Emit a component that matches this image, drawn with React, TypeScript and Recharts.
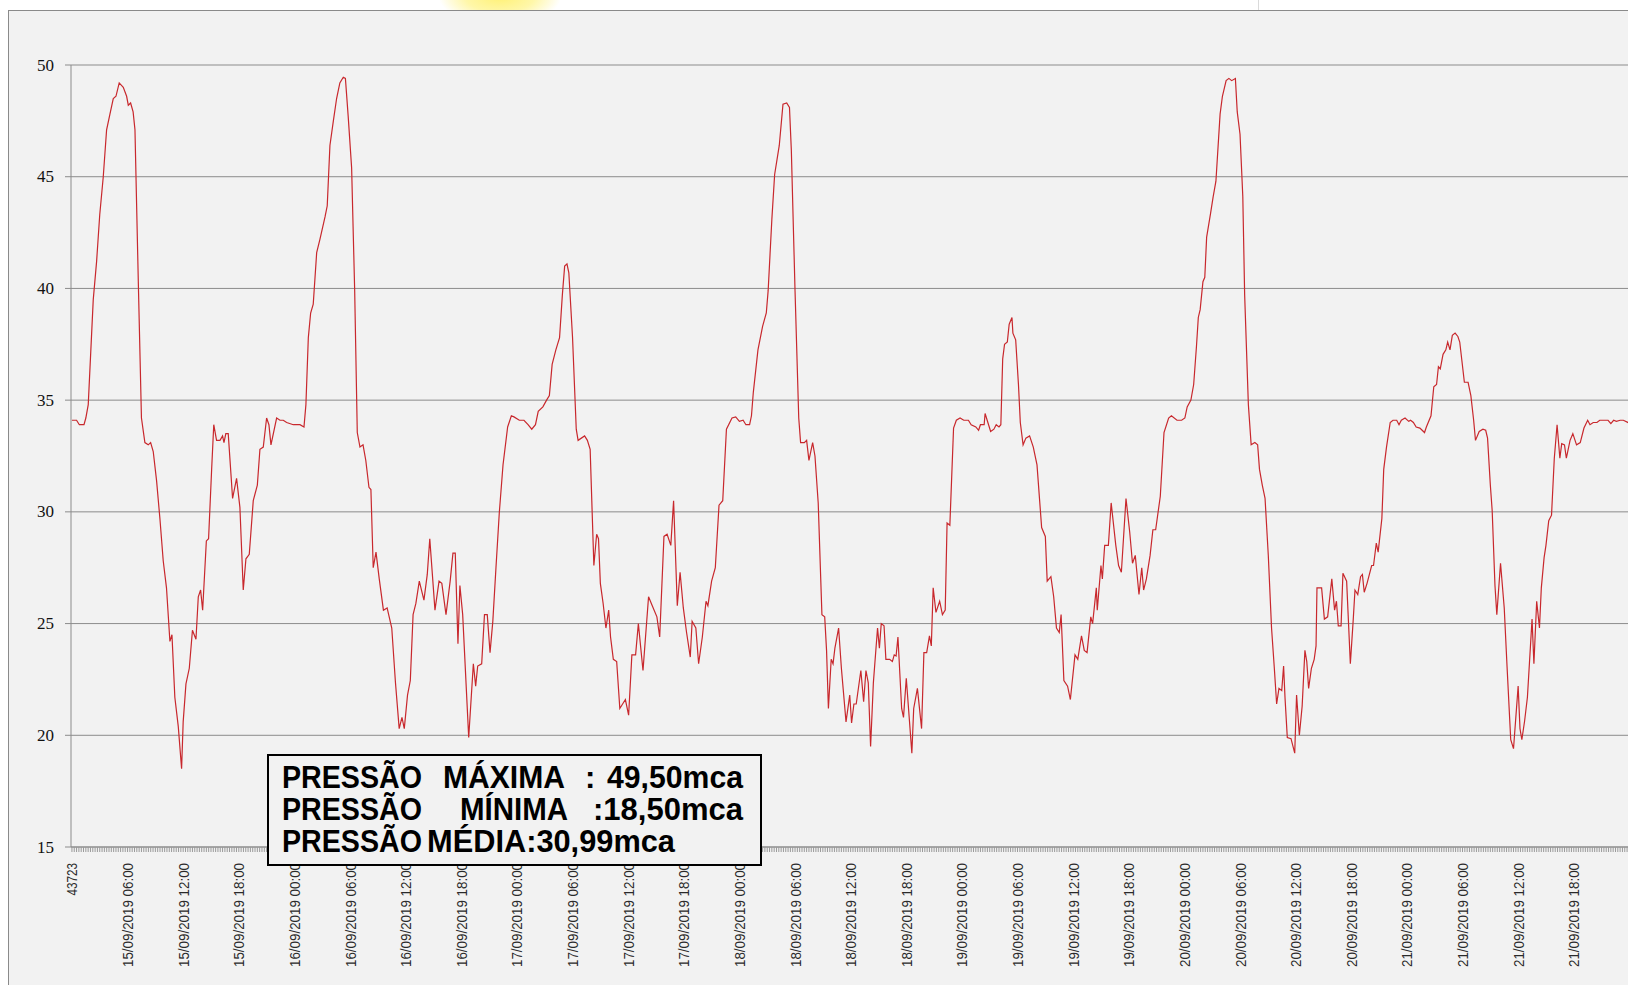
import { LineChart, Line, XAxis, YAxis, CartesianGrid } from 'recharts'

// pressure readings (mca) as [hours since 15/09/2019 00:00, pressure]
const sep15: [number, number][] = [
  [0, 34.1], [0.5, 34.1], [0.8, 33.9], [1.3, 33.9], [1.5, 34.2], [1.76, 34.8], [2.3, 39.5], [2.66, 41.2],
  [3.0, 43.3], [3.38, 45.0], [3.74, 47.1], [4.1, 47.8], [4.46, 48.5], [4.75, 48.6], [5.1, 49.2], [5.54, 49.0],
  [5.9, 48.6], [6.08, 48.2], [6.33, 48.3], [6.6, 47.9], [6.8, 47.1], [7.16, 40.3], [7.5, 34.2], [7.87, 33.1],
  [8.23, 33.0], [8.49, 33.1], [8.77, 32.7], [9.13, 31.4], [9.49, 29.7], [9.85, 27.8], [10.2, 26.6], [10.57, 24.2],
  [10.79, 24.5], [11.1, 21.7], [11.47, 20.4], [11.83, 18.5], [12.0, 20.6], [12.3, 22.3], [12.66, 23.0], [13.0, 24.7],
  [13.38, 24.3], [13.63, 26.2], [13.88, 26.5], [14.1, 25.6], [14.5, 28.7], [14.74, 28.8], [15.07, 31.9], [15.3, 33.9],
  [15.6, 33.2], [15.97, 33.2], [16.25, 33.4], [16.4, 33.1], [16.6, 33.5], [16.86, 33.5], [17.33, 30.6], [17.76, 31.5],
  [18.12, 30.2], [18.48, 26.5], [18.77, 27.9], [19.13, 28.1], [19.56, 30.5], [20.0, 31.2], [20.28, 32.8], [20.64, 32.9],
  [21.0, 34.2], [21.25, 33.9], [21.47, 33.0], [22.08, 34.2], [22.44, 34.1], [22.8, 34.1], [23.16, 34.0], [23.88, 33.9],
]

const sep16: [number, number][] = [
  [24.6, 33.9], [25.03, 33.8], [25.24, 34.8], [25.5, 37.8], [25.75, 38.9], [26.03, 39.3], [26.4, 41.6], [26.75, 42.2],
  [27.3, 43.2], [27.54, 43.7], [27.83, 46.4], [28.2, 47.5], [28.55, 48.5], [28.9, 49.2], [29.27, 49.45], [29.5, 49.4],
  [29.8, 47.7], [30.17, 45.4], [30.5, 39.9], [30.78, 33.55], [31.07, 32.9], [31.4, 33.0], [31.7, 32.3], [32.04, 31.1],
  [32.25, 31.0], [32.5, 27.5], [32.8, 28.2], [33.15, 27.0], [33.6, 25.6], [34.0, 25.7], [34.5, 24.8], [34.9, 22.35],
  [35.3, 20.3], [35.6, 20.8], [35.85, 20.3], [36.2, 21.8], [36.5, 22.45], [36.8, 25.4], [37.1, 25.9], [37.47, 26.9],
  [37.97, 26.05], [38.33, 27.2], [38.6, 28.8], [39.16, 25.6], [39.6, 26.9], [39.9, 26.8], [40.35, 25.4], [40.8, 26.9],
  [41.1, 28.15], [41.35, 28.15], [41.64, 24.1], [41.85, 26.7], [42.15, 25.4], [42.8, 19.9], [43.3, 23.2], [43.55, 22.2],
  [43.77, 23.1], [44.2, 23.2], [44.5, 25.4], [44.8, 25.4], [45.1, 23.7], [45.4, 25.1], [45.74, 27.5], [46.1, 29.96],
  [46.5, 32.1], [47.0, 33.8], [47.4, 34.3], [47.68, 34.25],
]

const sep17: [number, number][] = [
  [48.26, 34.1], [48.76, 34.1], [49.2, 33.9], [49.6, 33.7], [50.0, 33.9], [50.3, 34.5], [50.8, 34.7], [51.2, 35.0],
  [51.5, 35.2], [51.8, 36.6], [52.2, 37.25], [52.6, 37.8], [52.9, 39.7], [53.15, 41.0], [53.4, 41.1], [53.6, 40.7],
  [54.0, 37.8], [54.4, 33.7], [54.6, 33.2], [55.3, 33.4], [55.6, 33.2], [55.9, 32.8], [56.3, 27.6], [56.6, 29.0],
  [56.8, 28.8], [57.0, 26.8], [57.3, 25.9], [57.6, 24.8], [57.9, 25.6], [58.1, 24.4], [58.4, 23.4], [58.76, 23.3],
  [59.1, 21.2], [59.4, 21.4], [59.7, 21.6], [60.05, 20.9], [60.4, 23.6], [60.8, 23.6], [61.1, 25.0], [61.6, 22.9],
  [62.2, 26.2], [62.6, 25.8], [63.1, 25.3], [63.4, 24.4], [63.86, 28.9], [64.2, 29.0], [64.6, 28.5], [64.9, 30.5],
  [65.3, 25.8], [65.6, 27.3], [65.95, 25.7], [66.3, 24.6], [66.7, 23.5], [66.9, 25.1], [67.3, 24.8], [67.6, 23.2],
  [68.0, 24.4], [68.4, 26.0], [68.6, 25.8], [69.0, 26.9], [69.4, 27.5], [69.8, 30.3], [70.2, 30.5], [70.6, 33.7],
  [71.2, 34.2], [71.6, 34.25],
]

const sep18: [number, number][] = [
  [72.0, 34.05], [72.4, 34.1], [72.7, 33.9], [73.1, 33.9], [73.3, 34.3], [73.5, 35.35], [74.0, 37.25], [74.5, 38.3],
  [74.9, 38.9], [75.1, 39.9], [75.5, 43.1], [75.8, 45.1], [76.3, 46.4], [76.7, 48.25], [77.1, 48.3], [77.4, 48.1],
  [77.6, 46.2], [78.0, 39.9], [78.4, 34.2], [78.6, 33.1], [79.0, 33.1], [79.25, 33.2], [79.5, 32.3], [79.9, 33.1],
  [80.15, 32.5], [80.5, 30.4], [80.9, 25.4], [81.2, 25.3], [81.4, 23.8], [81.6, 21.2], [81.9, 23.4], [82.1, 23.2],
  [82.3, 23.9], [82.7, 24.8], [83.0, 23.0], [83.5, 20.6], [83.9, 21.8], [84.1, 20.55], [84.35, 21.4], [84.6, 21.4],
  [85.1, 22.9], [85.4, 21.5], [85.65, 22.9], [85.9, 22.35], [86.15, 19.5], [86.45, 22.35], [86.9, 24.8], [87.1, 23.9],
  [87.3, 25.0], [87.6, 24.9], [87.8, 23.4], [88.2, 23.4], [88.5, 23.3], [88.7, 23.6], [88.9, 23.55], [89.1, 24.4],
  [89.5, 21.2], [89.7, 20.8], [90.0, 22.55], [90.6, 19.2], [90.8, 21.2], [91.2, 22.1], [91.65, 20.3], [91.9, 23.7],
  [92.2, 23.7], [92.5, 24.45], [92.7, 24.0], [92.9, 26.6], [93.2, 25.5], [93.6, 26.0], [93.9, 25.4], [94.2, 25.6],
  [94.4, 29.5], [94.7, 29.4], [95.1, 33.75], [95.4, 34.1], [95.8, 34.2],
]

const sep19: [number, number][] = [
  [96.2, 34.1], [96.7, 34.1], [97.0, 33.9], [97.5, 33.8], [97.8, 33.65], [98.0, 33.9], [98.4, 33.9], [98.5, 34.4],
  [98.8, 34.0], [99.1, 33.6], [99.45, 33.7], [99.7, 33.9], [100.0, 33.8], [100.2, 33.9], [100.4, 36.85], [100.6, 37.5],
  [100.9, 37.6], [101.1, 38.4], [101.4, 38.7], [101.5, 38.0], [101.8, 37.7], [102.1, 35.7], [102.3, 34.0], [102.6, 33.0],
  [102.9, 33.3], [103.3, 33.4], [103.7, 32.9], [104.1, 32.1], [104.6, 29.3], [105.0, 28.9], [105.2, 26.9], [105.6, 27.1],
  [105.9, 26.2], [106.2, 24.8], [106.5, 24.6], [106.7, 25.4], [107.0, 22.45], [107.4, 22.2], [107.7, 21.6], [108.2, 23.6],
  [108.5, 23.4], [108.9, 24.45], [109.2, 23.8], [109.5, 23.7], [109.9, 25.3], [110.1, 25.0], [110.5, 26.6], [110.6, 25.6],
  [111.0, 27.6], [111.15, 27.0], [111.4, 28.5], [111.8, 28.5], [112.1, 30.4], [112.6, 28.5], [112.9, 27.6], [113.2, 27.3],
  [113.7, 30.6], [114.1, 29.1], [114.4, 27.7], [114.7, 28.05], [115.1, 26.3], [115.4, 27.5], [115.6, 26.5], [115.9, 27.0],
  [116.3, 28.05], [116.6, 29.2], [116.9, 29.2], [117.4, 30.7], [117.8, 33.55], [118.3, 34.2], [118.6, 34.3], [119.2, 34.1],
  [119.7, 34.1],
]

const sep20: [number, number][] = [
  [120.05, 34.2], [120.3, 34.7], [120.7, 35.0], [121.0, 35.7], [121.3, 37.4], [121.5, 38.7], [121.7, 39.05], [122.0, 40.3],
  [122.2, 40.5], [122.4, 42.3], [122.8, 43.3], [123.1, 44.1], [123.4, 44.8], [123.85, 47.8], [124.1, 48.6], [124.5, 49.3],
  [124.8, 49.4], [125.1, 49.3], [125.5, 49.4], [125.7, 47.9], [126.0, 46.9], [126.3, 44.1], [126.5, 39.7], [126.9, 34.8],
  [127.2, 33.0], [127.6, 33.1], [127.9, 33.0], [128.1, 31.9], [128.4, 31.2], [128.7, 30.6], [129.05, 28.05], [129.4, 24.8],
  [129.7, 23.0], [129.95, 21.4], [130.2, 22.1], [130.5, 22.0], [130.7, 23.1], [130.85, 21.7], [131.1, 19.9], [131.5, 19.85],
  [131.9, 19.2], [132.1, 21.8], [132.4, 20.0], [132.7, 21.3], [133.0, 23.8], [133.2, 23.3], [133.4, 22.1], [133.7, 23.0],
  [134.0, 23.4], [134.2, 24.0], [134.3, 26.6], [134.8, 26.6], [135.1, 25.2], [135.45, 25.3], [135.9, 27.0], [136.2, 25.6],
  [136.4, 26.0], [136.6, 24.9], [136.9, 24.9], [137.1, 27.25], [137.5, 26.9], [137.9, 23.2], [138.2, 25.1], [138.4, 26.5],
  [138.7, 26.3], [139.0, 27.1], [139.2, 27.2], [139.4, 26.4], [139.7, 26.8], [140.2, 27.6], [140.4, 27.6], [140.7, 28.6],
  [140.9, 28.2], [141.3, 29.7], [141.5, 31.9], [141.8, 32.9], [142.2, 34.0], [142.5, 34.1], [142.9, 34.1], [143.15, 33.9],
  [143.4, 34.1], [143.8, 34.2],
]

const sep21: [number, number][] = [
  [144.2, 34.05], [144.4, 34.1], [144.7, 34.0], [145.0, 33.8], [145.4, 33.75], [145.9, 33.55], [146.1, 33.8], [146.6, 34.3],
  [146.9, 35.6], [147.2, 35.7], [147.4, 36.5], [147.6, 36.4], [147.9, 37.05], [148.2, 37.25], [148.4, 37.6], [148.65, 37.25],
  [148.9, 37.9], [149.2, 38.0], [149.5, 37.85], [149.7, 37.6], [150.2, 35.8], [150.6, 35.8], [150.9, 35.2], [151.2, 34.1],
  [151.4, 33.2], [151.8, 33.6], [152.2, 33.7], [152.5, 33.65], [152.7, 33.3], [153.0, 31.2], [153.2, 30.05], [153.5, 26.7],
  [153.7, 25.4], [154.1, 27.7], [154.5, 25.7], [154.8, 23.1], [155.2, 19.8], [155.5, 19.4], [156.0, 22.2], [156.2, 20.3],
  [156.4, 19.8], [156.7, 20.65], [157.0, 21.7], [157.5, 25.2], [157.7, 23.2], [158.0, 26.0], [158.3, 24.8], [158.5, 26.6],
  [158.8, 27.95], [159.0, 28.5], [159.3, 29.6], [159.6, 29.85], [159.9, 32.4], [160.2, 33.9], [160.5, 32.4], [160.7, 33.05],
  [161.0, 33.0], [161.2, 32.4], [161.6, 33.2], [161.9, 33.5], [162.3, 33.0], [162.7, 33.1], [163.1, 33.75], [163.5, 34.1],
  [163.75, 33.9], [164.1, 34.0], [164.5, 34.0], [164.8, 34.1], [165.2, 34.1], [165.7, 34.1], [166.0, 33.95], [166.3, 34.1],
  [166.6, 34.05], [167.0, 34.1], [167.35, 34.1], [167.85, 34.0], [168.1, 34.05],
]

const xLabels = [
  '43723', '15/09/2019 06:00', '15/09/2019 12:00', '15/09/2019 18:00',
  '16/09/2019 00:00', '16/09/2019 06:00', '16/09/2019 12:00', '16/09/2019 18:00',
  '17/09/2019 00:00', '17/09/2019 06:00', '17/09/2019 12:00', '17/09/2019 18:00',
  '18/09/2019 00:00', '18/09/2019 06:00', '18/09/2019 12:00', '18/09/2019 18:00',
  '19/09/2019 00:00', '19/09/2019 06:00', '19/09/2019 12:00', '19/09/2019 18:00',
  '20/09/2019 00:00', '20/09/2019 06:00', '20/09/2019 12:00', '20/09/2019 18:00',
  '21/09/2019 00:00', '21/09/2019 06:00', '21/09/2019 12:00', '21/09/2019 18:00',
]
const yTicks = [15, 20, 25, 30, 35, 40, 45, 50]

const data = [...sep15, ...sep16, ...sep17, ...sep18, ...sep19, ...sep20, ...sep21].map(([t, p]) => ({ t, p }))

// one small tick per 15 minutes, labels every 6 hours
const minorTicks: number[] = []
for (let i = 0; i < 672; i++) minorTicks.push(i * 0.25)

const GRID = '#8c8c8c'

function XTick(props: any) {
  const { x, payload } = props
  const idx = payload.value / 6
  if (Math.abs(idx - Math.round(idx)) > 1e-6) return <g />
  const label = xLabels[Math.round(idx)]
  if (!label) return <g />
  const tx = x + 5.5
  const ty = 863
  return (
    <text
      x={tx}
      y={ty}
      transform={`rotate(-90 ${tx} ${ty})`}
      textAnchor="end"
      textLength={label.length * 6.5}
      lengthAdjust="spacingAndGlyphs"
      fontFamily="'Liberation Sans', Arial, sans-serif"
      fontSize={15.5}
      fill="#2a2a2a"
    >
      {label}
    </text>
  )
}

function YTick({ x, y, payload }: any) {
  return (
    <text x={x - 9} y={y + 5.5} textAnchor="end" fontFamily="'Liberation Serif', serif" fontSize={17} fill="#111">
      {payload.value}
    </text>
  )
}

const boxFont = { fontFamily: "'Liberation Sans', Arial, sans-serif", fontSize: 31, fontWeight: 700, fill: '#000' }

export default function App() {
  return (
    <div style={{ position: 'absolute', left: 0, top: 0, width: 1628, height: 985, overflow: 'hidden', background: '#fff' }}>
      <div
        style={{
          position: 'absolute', left: 440, top: -30, width: 120, height: 54,
          background: 'radial-gradient(ellipse at center, #fff176 0%, #fff7a8 40%, #fffbd8 58%, rgba(255,255,255,0) 72%)',
        }}
      />
      <div style={{ position: 'absolute', left: 1258, top: 0, width: 1, height: 10, background: '#dadada' }} />
      <div
        style={{
          position: 'absolute', left: 8, top: 10, width: 1700, height: 1100,
          background: '#f2f2f2', border: '1px solid #8a8a8a',
        }}
      />
      <div style={{ position: 'absolute', left: 0, top: 0 }}>
        <LineChart width={1628} height={985} data={data} margin={{ top: 65, right: 0, bottom: 0, left: 0 }}>
          <CartesianGrid vertical={false} stroke={GRID} strokeWidth={1} />
          <XAxis
            type="number"
            dataKey="t"
            domain={[-0.1, 167.85]}
            allowDataOverflow
            ticks={minorTicks}
            interval={0}
            tick={XTick}
            tickSize={5}
            tickLine={{ stroke: '#9a9a9a' }}
            axisLine={{ stroke: GRID }}
            height={138}
          />
          <YAxis
            domain={[15, 50]}
            ticks={yTicks}
            allowDataOverflow
            width={71}
            tick={YTick}
            tickSize={6}
            tickLine={{ stroke: GRID }}
            axisLine={{ stroke: GRID }}
          />
          <Line
            type="linear"
            dataKey="p"
            stroke="#c8282d"
            strokeWidth={1.2}
            dot={false}
            isAnimationActive={false}
          />
        </LineChart>
      </div>
      <svg width={1628} height={985} style={{ position: 'absolute', left: 0, top: 0, pointerEvents: 'none' }}>
        <rect x={268} y={755} width={493} height={110} fill="#f2f2f2" stroke="#000" strokeWidth={2} />
        <text x={282} y={788} textLength={140} lengthAdjust="spacingAndGlyphs" {...boxFont}>PRESSÃO</text>
        <text x={443} y={788} textLength={122} lengthAdjust="spacingAndGlyphs" {...boxFont}>MÁXIMA</text>
        <text x={585} y={788} {...boxFont}>:</text>
        <text x={607} y={788} textLength={136} lengthAdjust="spacingAndGlyphs" {...boxFont}>49,50mca</text>
        <text x={282} y={820} textLength={140} lengthAdjust="spacingAndGlyphs" {...boxFont}>PRESSÃO</text>
        <text x={460} y={820} textLength={108} lengthAdjust="spacingAndGlyphs" {...boxFont}>MÍNIMA</text>
        <text x={593} y={820} textLength={150} lengthAdjust="spacingAndGlyphs" {...boxFont}>:18,50mca</text>
        <text x={282} y={852} textLength={140} lengthAdjust="spacingAndGlyphs" {...boxFont}>PRESSÃO</text>
        <text x={427} y={852} textLength={248} lengthAdjust="spacingAndGlyphs" {...boxFont}>MÉDIA:30,99mca</text>
      </svg>
    </div>
  )
}
